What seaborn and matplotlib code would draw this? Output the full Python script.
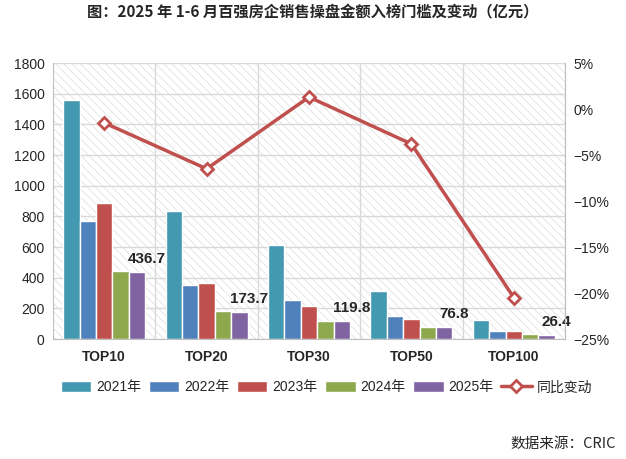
import matplotlib
matplotlib.use("Agg")
import matplotlib.pyplot as plt
import numpy as np
import pandas as pd
import seaborn as sns
from matplotlib.patches import Rectangle
from matplotlib.ticker import PercentFormatter, FixedLocator

# ------------------------ data ----------------------------------
tiers = ["TOP10", "TOP20", "TOP30", "TOP50", "TOP100"]
years = ["2021年", "2022年", "2023年", "2024年", "2025年"]
v2021 = [1560, 835, 613, 313, 124]
v2022 = [770, 352, 254, 150, 52]
v2023 = [887, 367, 215, 130, 52]
v2024 = [441, 185, 120, 78, 33]
v2025 = [436.7, 173.7, 119.8, 76.8, 26.4]
yoy = [-1.5, -6.5, 1.3, -3.8, -20.5]   # 同比变动 (%)

colors = ["#4399b0", "#4f81bd", "#c0504d", "#8ea84e", "#8064a2"]
line_color = "#c0504d"

df = pd.DataFrame({
    "tier": np.tile(tiers, 5),
    "year": np.repeat(years, 5),
    "value": v2021 + v2022 + v2023 + v2024 + v2025,
})

sns.set_style("white")
plt.rcParams['font.family'] = ['Liberation Sans', 'Noto Sans CJK SC', 'DejaVu Sans']
plt.rcParams['axes.unicode_minus'] = True
plt.rcParams['hatch.linewidth'] = 0.5

fig = plt.figure(figsize=(6.26, 4.59), dpi=100)
ax = fig.add_axes([0.0847, 0.2614, 0.8179, 0.6013])

# hatched background
bg = Rectangle((0, 0), 1, 1, transform=ax.transAxes, facecolor="white",
               edgecolor="#dcdcdc", hatch="\\\\\\\\", linewidth=0, zorder=0)
ax.add_patch(bg)

sns.barplot(data=df, x="tier", y="value", hue="year", palette=colors,
            width=0.8, ax=ax, zorder=3, saturation=1, legend=True)

ax.set_ylim(0, 1800)
ax.set_xlim(-0.5, 4.5)
ax.set_yticks(np.arange(0, 1801, 200))
ax.set_xlabel("")
ax.set_ylabel("")
ax.grid(axis="y", color="#d9d9d9", linewidth=1, zorder=1)
for b in np.arange(0.5, 4.5, 1):
    ax.axvline(b, color="#d9d9d9", linewidth=1, zorder=1)
ax.set_axisbelow(True)

ax.tick_params(axis="y", length=0, labelsize=10, pad=6)
ax.tick_params(axis="x", which="major", length=0, labelsize=10, pad=8)
ax.xaxis.set_minor_locator(FixedLocator(np.arange(-0.5, 5, 1)))
ax.tick_params(axis="x", which="minor", length=5, color="#bfbfbf")
for lbl in ax.get_xticklabels():
    lbl.set_fontweight("bold")
ax.spines["top"].set_visible(False)
for s in ["left", "bottom", "right"]:
    ax.spines[s].set_color("#bfbfbf")

# labels on 2025 bars
for p, v in zip(ax.containers[4].patches, v2025):
    ax.annotate(f"{v:.1f}", (p.get_x() + p.get_width() / 2, p.get_height()),
                xytext=(10, 6), textcoords="offset pixels", ha="center",
                va="bottom", fontsize=11, fontweight="bold", zorder=5)

# yoy line on right axis
ax2 = ax.twinx()
sns.lineplot(x=np.arange(len(tiers)), y=yoy, ax=ax2, color=line_color,
             linewidth=2.5, marker="D", markersize=6, markerfacecolor="white",
             markeredgecolor=line_color, markeredgewidth=2, zorder=6)
ax2.set_ylim(-25, 5)
ax2.set_yticks(np.arange(-25, 6, 5))
ax2.yaxis.set_major_formatter(PercentFormatter(decimals=0))
ax2.tick_params(axis="y", length=0, labelsize=10, pad=6)
for s in ["top", "left", "bottom"]:
    ax2.spines[s].set_visible(False)
ax2.spines["right"].set_color("#bfbfbf")
ax2.set_xlim(-0.5, 4.5)

# legend
handles, labels = ax.get_legend_handles_labels()
ax.get_legend().remove()
line_h = plt.Line2D([], [], color=line_color, linewidth=2.5, marker="D",
                    markersize=6, markerfacecolor="white",
                    markeredgecolor=line_color, markeredgewidth=2)
handles = list(handles) + [line_h]
labels = list(labels) + ["同比变动"]
fig.legend(handles, labels, loc="center", bbox_to_anchor=(0.5216, 0.156),
           ncol=6, frameon=False, fontsize=10, handlelength=2.2,
           handleheight=0.75, columnspacing=0.52, handletextpad=0.37)

fig.text(0.5, 0.976, "图：2025 年 1-6 月百强房企销售操盘金额入榜门槛及变动（亿元）",
         ha="center", va="center", fontsize=11, fontweight="bold",
         family=["Noto Sans CJK SC", "DejaVu Sans"])
fig.text(0.984, 0.033, "数据来源：CRIC", ha="right", va="center",
         fontsize=10.5, family=["Noto Sans CJK SC", "DejaVu Sans"])

fig.savefig("out.png", dpi=100)
